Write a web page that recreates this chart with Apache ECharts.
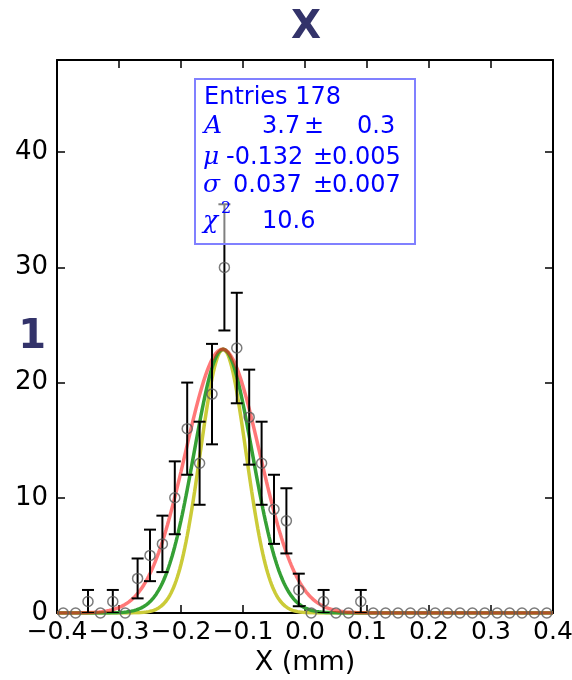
<!DOCTYPE html>
<html>
<head>
<meta charset="utf-8">
<script src="https://cdn.jsdelivr.net/npm/echarts@6/dist/echarts.min.js"></script>
<style>
  html, body { margin: 0; padding: 0; background: #fff; }
  #chart { width: 572px; height: 680px; }
</style>
</head>
<body>
<div id="chart"></div>
<script>
// Histogram bins (centres, mm) and entries per bin
const binCenters = [
  -0.39, -0.37, -0.35, -0.33, -0.31, -0.29, -0.27, -0.25, -0.23, -0.21,
  -0.19, -0.17, -0.15, -0.13, -0.11, -0.09, -0.07, -0.05, -0.03, -0.01,
   0.01,  0.03,  0.05,  0.07,  0.09,  0.11,  0.13,  0.15,  0.17,  0.19,
   0.21,  0.23,  0.25,  0.27,  0.29,  0.31,  0.33,  0.35,  0.37,  0.39
];
const counts = [
  0, 0, 1, 0, 1, 0, 3, 5, 6, 10,
  16, 13, 19, 30, 23, 17, 13, 9, 8, 2,
  0, 1, 0, 0, 1, 0, 0, 0, 0, 0,
  0, 0, 0, 0, 0, 0, 0, 0, 0, 0
];

// Gaussian fit curves: peak height, mean and width of each
const fitNames  = ['fit narrow', 'fit medium', 'fit wide'];
const fitPeak   = [22.9, 22.9, 22.9];
const fitMean   = [-0.132, -0.132, -0.133];
const fitSigma  = [0.037, 0.047, 0.060];
const fitColors = ['#cbcb38', '#35a035', 'rgba(255,30,30,0.6)'];

// Axis tick values
const xTicks = [-0.4, -0.3, -0.2, -0.1, 0.0, 0.1, 0.2, 0.3, 0.4];
const yTicks = [0, 10, 20, 30, 40];

// Fit summary box
const statEntries = 178;
const statA     = ['3.7', '0.3'];
const statMu    = ['-0.132', '0.005'];
const statSigma = ['0.037', '0.007'];
const statChi2  = '10.6';

const FONT = 'DejaVu Sans';
const X_MIN = xTicks[0], X_MAX = xTicks[xTicks.length - 1], X_STEP = 0.1;
const Y_MIN = yTicks[0], Y_MAX = 48, Y_STEP = 10;

const chart = echarts.init(document.getElementById('chart'), null, { renderer: 'canvas' });

// sample each Gaussian model across the x range
function gaussCurve(k) {
  const pts = [];
  for (let i = 0; i <= 400; i++) {
    const x = X_MIN + (X_MAX - X_MIN) * i / 400;
    const d = (x - fitMean[k]) / fitSigma[k];
    pts.push([x, fitPeak[k] * Math.exp(-0.5 * d * d)]);
  }
  return pts;
}

const points = binCenters.map((x, i) => [x, counts[i]]);
const errBars = binCenters
  .map((x, i) => [x, counts[i] - Math.sqrt(counts[i]), counts[i] + Math.sqrt(counts[i])])
  .filter((d, i) => counts[i] > 0);

const fmtX = v => (v < -1e-9 ? '\u2212' : '') + Math.abs(v).toFixed(1);

const axisCommon = {
  type: 'value',
  axisLine: { show: true, onZero: false, lineStyle: { color: '#000', width: 2 } },
  axisTick: { show: true, inside: true, length: 8, lineStyle: { color: '#000', width: 1.5 } },
  splitLine: { show: false }
};

// text helper: x = left edge (or anchor), yb = baseline
function txt(x, yb, s, o) {
  o = o || {};
  const fs = o.size || 24;
  return {
    type: 'text', x: x, y: yb - 0.35 * fs, z: 100,
    style: {
      text: s,
      font: (o.style || 'normal') + ' ' + (o.weight || 'normal') + ' ' + fs + 'px "' + (o.family || FONT) + '"',
      fill: o.color || '#0000ff',
      align: o.align || 'left',
      verticalAlign: 'middle'
    }
  };
}
const greek = { style: 'italic', family: 'DejaVu Serif', size: 25 };

const graphics = [
  // fit summary box
  {
    type: 'rect', z: 90,
    shape: { x: 195, y: 79, width: 220, height: 165 },
    style: { fill: 'rgba(255,255,255,0.5)', stroke: '#8080ff', lineWidth: 2 }
  },
  txt(204, 106, 'Entries ' + statEntries),
  txt(204, 135, 'A', greek),
  txt(262, 135, statA[0]),
  txt(304, 135, '\u00b1'),
  txt(357, 135, statA[1]),
  txt(203, 166, '\u03bc', greek),
  txt(226, 166, statMu[0]),
  txt(313, 166, '\u00b1'),
  txt(332, 166, statMu[1]),
  txt(203, 194, '\u03c3', greek),
  txt(233, 194, statSigma[0]),
  txt(313, 194, '\u00b1'),
  txt(332, 194, statSigma[1]),
  txt(203, 230, '\u03c7', greek),
  txt(221, 214, '2', { size: 16, family: 'DejaVu Serif' }),
  txt(262, 230, statChi2),
  // title and side marker
  txt(306, 42, 'X', { size: 39, weight: 'bold', color: '#33336a', align: 'center' }),
  txt(46, 352, '1', { size: 40, weight: 'bold', color: '#33336a', align: 'right' })
];

const option = {
  backgroundColor: '#fff',
  animation: false,
  grid: {
    left: 57, right: 19, top: 60, bottom: 67,
    containLabel: false, outerBoundsMode: 'none'
  },
  xAxis: [
    Object.assign({}, axisCommon, {
      position: 'bottom', min: X_MIN, max: X_MAX, interval: X_STEP,
      name: 'X (mm)', nameLocation: 'middle', nameGap: 35,
      nameTextStyle: { fontFamily: FONT, fontSize: 27, color: '#000' },
      axisLabel: {
        show: true, margin: 7, fontFamily: FONT, fontSize: 25, color: '#000',
        formatter: fmtX, hideOverlap: false, showMinLabel: true, showMaxLabel: true
      }
    }),
    Object.assign({}, axisCommon, {
      position: 'top', min: X_MIN, max: X_MAX, interval: X_STEP,
      axisLabel: { show: false }
    })
  ],
  yAxis: [
    Object.assign({}, axisCommon, {
      position: 'left', min: Y_MIN, max: Y_MAX, interval: Y_STEP,
      axisLabel: {
        show: true, margin: 9, fontFamily: FONT, fontSize: 26, color: '#000',
        showMaxLabel: false,
        formatter: v => (yTicks.indexOf(v) >= 0 ? String(v) : '')
      }
    }),
    Object.assign({}, axisCommon, {
      position: 'right', min: Y_MIN, max: Y_MAX, interval: Y_STEP,
      axisLabel: { show: false }
    })
  ],
  series: [
    ...fitNames.map((n, k) => ({
      name: n, type: 'line', data: gaussCurve(k),
      showSymbol: false, symbol: 'none', smooth: false, clip: true,
      z: 2 + k,
      lineStyle: { color: fitColors[k], width: 3.5 },
      emphasis: { disabled: true }
    })),
    {
      name: 'errors', type: 'custom', z: 6, clip: true,
      data: errBars,
      renderItem: (params, api) => {
        const x = api.value(0), lo = Math.max(api.value(1), 0), hi = api.value(2);
        const top = api.coord([x, hi]);
        const bot = api.coord([x, lo]);
        const hw = 6;
        const st = { stroke: '#000', lineWidth: 2 };
        return {
          type: 'group',
          children: [
            { type: 'line', shape: { x1: top[0], y1: top[1], x2: bot[0], y2: bot[1] }, style: st },
            { type: 'line', shape: { x1: top[0] - hw, y1: top[1], x2: top[0] + hw, y2: top[1] }, style: st },
            { type: 'line', shape: { x1: bot[0] - hw, y1: bot[1], x2: bot[0] + hw, y2: bot[1] }, style: st }
          ]
        };
      }
    },
    {
      name: 'entries', type: 'scatter', z: 7, data: points,
      symbol: 'circle', symbolSize: 10,
      itemStyle: { color: 'rgba(0,0,0,0)', borderColor: '#5a5a5a', borderWidth: 1.5 },
      emphasis: { disabled: true }
    }
  ],
  graphic: graphics
};

chart.setOption(option);
</script>
</body>
</html>
